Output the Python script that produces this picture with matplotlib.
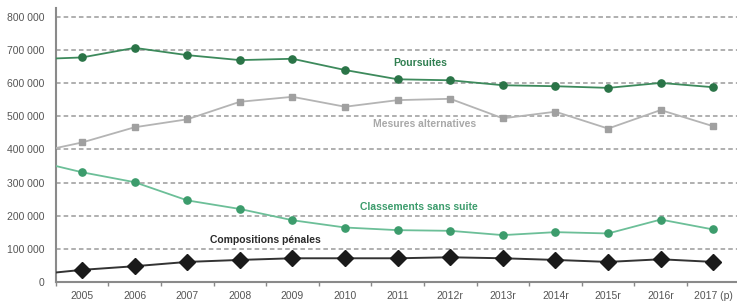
import numpy as np
import matplotlib
matplotlib.use("Agg")
from matplotlib import pyplot as plt
from matplotlib.ticker import FixedLocator, FuncFormatter

plt.rcParams['font.family'] = ['Liberation Sans', 'DejaVu Sans']

# %% data (2004 value only feeds the clipped line segment at the left edge)
years = ["2004", "2005", "2006", "2007", "2008", "2009", "2010", "2011",
         "2012r", "2013r", "2014r", "2015r", "2016r", "2017 (p)"]
poursuites = [672000, 678000, 707000, 685000, 670000, 674000, 640000, 612000,
              609000, 594000, 591000, 586000, 601000, 588000]
mesures_alt = [387000, 421000, 467000, 491000, 544000, 559000, 529000, 549000,
               553000, 494000, 514000, 463000, 519000, 470000]
classements = [369000, 331000, 301000, 246000, 220000, 186000, 164000, 156000,
               154000, 141000, 150000, 146000, 188000, 158000]
compositions = [20000, 36000, 47000, 60000, 66000, 71000, 71000, 71000,
                74000, 71000, 66000, 60000, 68000, 60000]
y_ticks = [0, 100000, 200000, 300000, 400000, 500000, 600000, 700000, 800000]

# %%
x = np.arange(len(years)) - 1

fig = plt.figure(figsize=(7.37, 3.02), dpi=100)
ax = fig.add_axes([0.0756, 0.067, 0.9244, 0.906])

for yv in y_ticks[1:]:
    ax.axhline(yv, color='#9a9a9a', lw=1.1, ls=(0, (3, 2)), zorder=0)

ax.plot(x, poursuites, color='#3d8a5c', lw=1.3, marker='o', ms=5.2,
        mfc='#2a7447', mec='#2a7447', zorder=3)
ax.plot(x, mesures_alt, color='#b4b4b4', lw=1.3, marker='s', ms=5,
        mfc='#a0a0a0', mec='#a0a0a0', zorder=3)
ax.plot(x, classements, color='#6cbf98', lw=1.3, marker='o', ms=5.2,
        mfc='#3c9c6c', mec='#3c9c6c', zorder=3)
ax.plot(x, compositions, color='#333333', lw=1.4, marker='D', ms=8,
        mfc='#1a1a1a', mec='#1a1a1a', zorder=3)

ax.text(6.43, 660000, "Poursuites", color='#2f7f50', fontsize=7.5,
        fontweight='bold', ha='center', va='center')
ax.text(6.52, 476000, "Mesures alternatives", color='#a8a8a8', fontsize=7.5,
        fontweight='bold', ha='center', va='center')
ax.text(6.4, 226000, "Classements sans suite", color='#3c9c6c', fontsize=7.5,
        fontweight='bold', ha='center', va='center')
ax.text(3.48, 126000, "Compositions pénales", color='#2a2a2a', fontsize=7.5,
        fontweight='bold', ha='center', va='center')

ax.set_xlim(-0.5, 12.45)
ax.set_ylim(0, 827000)

ax.set_xticks(x[1:])
ax.set_xticklabels(years[1:], fontsize=7.5, color='#555555')
ax.xaxis.set_minor_locator(FixedLocator(np.arange(-0.5, 13, 1)))
ax.tick_params(axis='x', which='major', length=0, pad=7)
ax.tick_params(axis='x', which='minor', length=3, color='#888888', width=1)

ax.yaxis.set_major_locator(FixedLocator(y_ticks))
ax.yaxis.set_major_formatter(FuncFormatter(
    lambda v, p: "0" if v == 0 else f"{int(v):,}".replace(",", " ")))
ax.tick_params(axis='y', length=0, pad=8, labelsize=7.5, labelcolor='#555555')

for s in ['top', 'right']:
    ax.spines[s].set_visible(False)
ax.spines['left'].set_color('#8a8a8a')
ax.spines['left'].set_linewidth(1.5)
ax.spines['bottom'].set_color('#8a8a8a')
ax.spines['bottom'].set_linewidth(1.5)

fig.savefig("out.png", dpi=100)
